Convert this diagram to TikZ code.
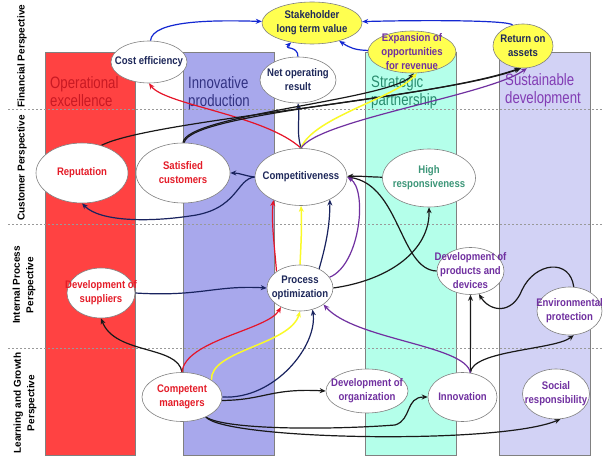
\documentclass[tikz,border=0pt]{standalone}
\usepackage{fontspec}
\setmainfont{Liberation Sans}
\newfontfamily\nf[FakeStretch=0.87]{Liberation Sans}
\newfontfamily\cf[FakeStretch=0.8]{Liberation Sans}
\usetikzlibrary{shapes.geometric,arrows.meta}
\pgfdeclarelayer{bg}
\pgfdeclarelayer{edges}
\pgfsetlayers{bg,edges,main}
\definecolor{colR}{RGB}{255,66,66}
\definecolor{colB}{RGB}{168,168,236}
\definecolor{colC}{RGB}{180,255,234}
\definecolor{colL}{RGB}{210,210,245}
\definecolor{tOE}{RGB}{200,25,35}
\definecolor{tIP}{RGB}{50,50,130}
\definecolor{tSP}{RGB}{40,140,110}
\definecolor{tSD}{RGB}{130,60,180}
\definecolor{tRed}{RGB}{228,28,40}
\definecolor{tNavy}{RGB}{30,40,90}
\definecolor{tPurp}{RGB}{112,48,160}
\definecolor{tTeal}{RGB}{60,150,120}
\definecolor{cRed}{RGB}{230,20,40}
\definecolor{cYel}{RGB}{250,250,40}
\definecolor{cNavy}{RGB}{25,35,95}
\definecolor{cPurp}{RGB}{112,48,160}
\definecolor{cBlue}{RGB}{20,40,210}
\definecolor{cBlack}{RGB}{25,25,25}
\definecolor{fYel}{RGB}{255,255,80}
\definecolor{bGray}{RGB}{128,128,128}
\begin{document}
\begin{tikzpicture}[x=1pt,y=-1pt,
  colbox/.style={draw=bGray,line width=0.5pt},
  dsh/.style={draw=gray!80,line width=0.8pt,dash pattern=on 2pt off 2pt},
  collbl/.style={anchor=north west,align=left,inner sep=0pt,font=\cf\fontsize{16.5}{18}\selectfont},
  rowlbl/.style={rotate=90,align=center,inner sep=0pt,font=\bfseries\fontsize{10}{13.5}\selectfont},
  ell/.style={ellipse,draw=bGray,fill=white,line width=0.6pt,inner sep=0pt},
  yell/.style={ell,fill=fYel},
  lbl/.style={align=center,inner sep=0pt,font=\nf\bfseries\fontsize{11}{14}\selectfont},
  arr/.style={-{Stealth[length=6pt,width=5pt]},line width=1.2pt},
]
\useasboundingbox (0,0) rectangle (603,457);
\begin{pgfonlayer}{bg}
  \fill[white] (0,0) rectangle (603,457);
  \filldraw[colbox,fill=colR] (45,52) rectangle (135,455);
  \filldraw[colbox,fill=colB] (183,52) rectangle (274,455);
  \filldraw[colbox,fill=colC] (365,52) rectangle (456,455);
  \filldraw[colbox,fill=colL] (499,52) rectangle (590,455);
  \draw[dsh] (8,109) -- (603,109);
  \draw[dsh] (8,224) -- (603,224);
  \draw[dsh] (8,348) -- (603,348);
  \node[collbl,text=tOE] (oeL) at (50,76) {Operational\\excellence};
  \node[collbl,text=tIP] (ipL) at (188,76) {Innovative\\production};
  \node[collbl,text=tSP] (spL) at (371,75) {Strategic\\partnership};
  \node[collbl,text=tSD] (sdL) at (505,73) {Sustainable\\development};
  \node[rowlbl] (rFin) at (22,56) {Financial Perspective};
  \node[rowlbl] (rCus) at (22,168) {Customer Perspective};
  \node[rowlbl] (rInt) at (24,285) {Internal Process\\Perspective};
  \node[rowlbl] (rLea) at (25,403) {Learning and Growth\\Perspective};
\end{pgfonlayer}
% nodes
\node[yell,minimum width=100pt,minimum height=42pt,label={[lbl,text=tNavy]center:{Stakeholder\\long term value}}] (stake) at (312,23) {};
\node[ell,minimum width=76pt,minimum height=42pt,label={[lbl,text=tNavy]center:{Cost efficiency}}] (cost) at (149,62) {};
\node[ell,minimum width=76pt,minimum height=46pt,label={[lbl,text=tNavy]center:{Net operating\\result}}] (net) at (298,80) {};
\node[yell,minimum width=88pt,minimum height=42pt,label={[lbl,text=tPurp]center:{Expansion of\\opportunities\\for revenue}}] (exp) at (412,52) {};
\node[yell,minimum width=60pt,minimum height=44pt,label={[lbl,text=tNavy]center:{Return on\\assets}}] (roa) at (523,46) {};
\node[ell,minimum width=92pt,minimum height=60pt,label={[lbl,text=tRed]center:{Reputation}}] (rep) at (82,173) {};
\node[ell,minimum width=94pt,minimum height=60pt,label={[lbl,text=tRed]center:{Satisfied\\customers}}] (sat) at (183,173) {};
\node[ell,minimum width=92pt,minimum height=57pt,label={[lbl,text=tNavy]center:{Competitiveness}}] (comp) at (301,177) {};
\node[ell,minimum width=93pt,minimum height=58pt,label={[lbl,text=tTeal]center:{High\\responsiveness}}] (high) at (429,178) {};
\node[ell,minimum width=68pt,minimum height=50pt,label={[lbl,text=tRed]center:{Development of\\suppliers}}] (sup) at (101,293) {};
\node[ell,minimum width=66pt,minimum height=46pt,label={[lbl,text=tNavy]center:{Process\\optimization}}] (proc) at (300,288) {};
\node[ell,minimum width=67pt,minimum height=47pt,label={[lbl,text=tPurp]center:{Development of\\products and\\devices}}] (dev) at (470.5,271) {};
\node[ell,minimum width=65pt,minimum height=48pt,label={[lbl,text=tPurp]center:{Environmental\\protection}}] (env) at (569.5,311) {};
\node[ell,minimum width=80pt,minimum height=49pt,label={[lbl,text=tRed]center:{Competent\\managers}}] (mgr) at (182,397) {};
\node[ell,minimum width=82pt,minimum height=44pt,label={[lbl,text=tPurp]center:{Development of\\organization}}] (org) at (367,391) {};
\node[ell,minimum width=69pt,minimum height=49pt,label={[lbl,text=tPurp]center:{Innovation}}] (inn) at (462.5,397) {};
\node[ell,minimum width=67pt,minimum height=50pt,label={[lbl,text=tPurp]center:{Social\\responsibility}}] (soc) at (556,394) {};
% connectors
\begin{pgfonlayer}{edges}
  \draw[arr,cBlue] (cost) .. controls (152,20) and (215,20) .. (stake);
  \draw[arr,cBlue] (net) .. controls (298,45) and (283,50) .. (stake);
  \draw[arr,cBlue] (exp) .. controls (355,50) and (350,48) .. (stake);
  \draw[arr,cBlue] (roa) .. controls (510,20) and (420,20) .. (stake);
  \draw[arr,cRed] (comp.north) .. controls (265,115) and (165,105) .. (cost.south);
  \draw[arr,cNavy] (comp.north) .. controls (296,130) and (300,120) .. (net.south);
  \draw[arr,cBlack] (rep.55) .. controls (150,120) and (430,100) .. (roa.262);
  \draw[arr,cBlack] (sat.north) .. controls (185,115) and (390,100) .. (exp.275);
  \draw[arr,cBlack] (sat.88) .. controls (190,112) and (440,98) .. (roa.265);
  \draw[arr,cYel,line width=1.5pt] (comp.north) .. controls (312,118) and (395,98) .. (exp.283);
  \draw[arr,cPurp] (comp.north) .. controls (318,120) and (490,95) .. (roa.280);
  \draw[arr,cNavy] (comp.west) .. controls (245,176) and (240,173) .. (sat.east);
  \draw[arr,cNavy] (comp.west) .. controls (236,179) and (238,210) .. (190,216) .. controls (150,222) and (100,222) .. (rep.south);
  \draw[arr,cBlack] (high) .. controls (370,177) and (362,176) .. (comp);
  \draw[arr,cBlack] (dev.west) .. controls (400,270) and (400,185) .. (comp.east);
  \draw[arr,cPurp] (proc.20) .. controls (360,265) and (368,190) .. (comp.east);
  \draw[arr,cBlack] (proc.east) .. controls (390,280) and (430,250) .. (high.south);
  \draw[arr,cRed] (proc.145) .. controls (275,250) and (271,222) .. (comp.220);
  \draw[arr,cYel,line width=1.5pt] (proc.north) .. controls (301,245) and (302,225) .. (comp.south);
  \draw[arr,cNavy] (proc.45) .. controls (326,245) and (330,225) .. (comp.322);
  \draw[arr,cNavy] (sup.east) .. controls (200,297) and (215,285) .. (proc.west);
  \draw[arr,cBlack] (mgr.north) .. controls (178,345) and (115,355) .. (sup.south);
  \draw[arr,cRed] (mgr.north) .. controls (185,340) and (268,330) .. (proc.225);
  \draw[arr,cYel,line width=1.5pt] (mgr.30) .. controls (210,350) and (290,345) .. (proc.south);
  \draw[arr,cNavy] (mgr.east) .. controls (275,400) and (318,345) .. (proc.300);
  \draw[arr,cBlack] (mgr.355) .. controls (265,400) and (270,388) .. (org.west);
  \draw[arr,cBlack] (mgr.320) .. controls (225,430) and (330,430) .. (395,425) .. controls (412,420) and (405,397) .. (inn.west);
  \draw[arr,cBlack] (mgr.320) .. controls (225,440) and (500,445) .. (soc.280);
  \draw[arr,cBlack] (inn.72) -- (dev.south);
  \draw[arr,cBlack] (inn.72) .. controls (472,350) and (555,350) .. (env.280);
  \draw[arr,cPurp] (inn.72) .. controls (466,345) and (355,340) .. (proc.325);
  \draw[arr,cBlack] (env.80) .. controls (570,258) and (535,262) .. (522,290) .. controls (512,315) and (490,312) .. (dev.290);
\end{pgfonlayer}
\end{tikzpicture}
\end{document}
